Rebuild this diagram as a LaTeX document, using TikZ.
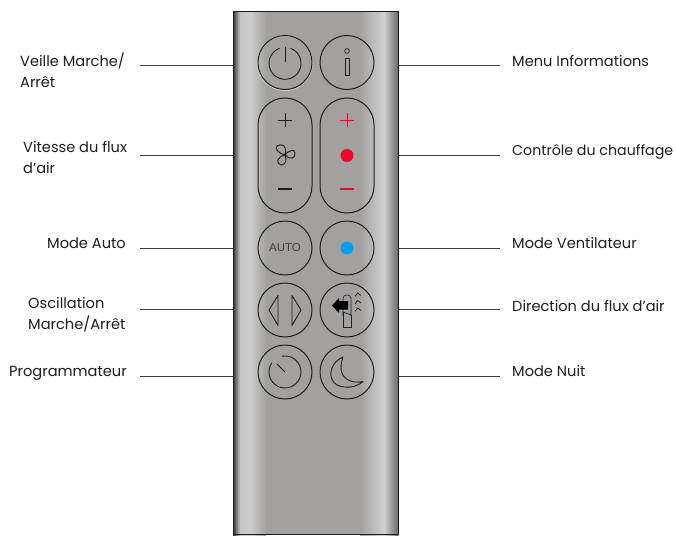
\documentclass[tikz,border=0pt]{standalone}
\usepackage{fontspec}
\setmainfont{Poppins}
\newfontfamily\autofont{Liberation Sans}
\definecolor{bodyg}{RGB}{162,161,159}
\definecolor{btnr}{RGB}{232,10,40}
\definecolor{btnb}{RGB}{10,160,240}
\definecolor{ink}{RGB}{30,30,30}
\tikzset{
 x=1pt,y=-1pt,
 lbl/.style={font=\fontsize{14.6}{21}\selectfont,text=ink,inner sep=0pt,align=left},
 lblsmall/.style={lbl,font=\fontsize{14.2}{21}\selectfont},
 leader/.style={draw=ink!85,line width=0.7pt},
 btn/.style={draw=ink,line width=1pt},
 icon/.style={draw=ink,line width=0.9pt},
 thinline/.style={draw=ink,line width=0.65pt},
 redline/.style={draw=btnr,line width=0.8pt},
 anch/.style={inner sep=0pt,minimum size=0pt}
}
\begin{document}
\begin{tikzpicture}
\useasboundingbox (0,0) rectangle (676,537);
\fill[white] (0,0) rectangle (676,537);
% body
\fill[left color=black!80,right color=black!22] (233,12) rectangle (240,535);
\fill[left color=black!22,right color=white!80!black] (240,12) rectangle (250,535);
\fill[left color=white!80!black,right color=bodyg] (250,12) rectangle (266,535);
\fill[bodyg] (266,12) rectangle (360,535);
\fill[left color=bodyg,right color=white!82!black] (360,12) rectangle (384,535);
\fill[left color=white!82!black,right color=black!60] (384,12) rectangle (398.5,535);
\draw[draw=ink,line width=1pt] (233,534.5)--(233,12)--(398.5,12)--(398.5,534.5)--cycle;
% leaders
\node[anch] (bl1) at (233,65) {}; \node[anch] (bl2) at (233,155) {}; \node[anch] (bl3) at (233,248) {};
\node[anch] (bl4) at (233,309) {}; \node[anch] (bl5) at (233,376) {};
\node[anch] (br1) at (398.5,65) {}; \node[anch] (br2) at (398.5,155) {}; \node[anch] (br3) at (398.5,248) {};
\node[anch] (br4) at (398.5,309) {}; \node[anch] (br5) at (398.5,376) {};
\coordinate (cl1) at (140,65);\coordinate (cl2) at (140,155);\coordinate (cl3) at (140,248);\coordinate (cl4) at (140,309);\coordinate (cl5) at (140,376);
\coordinate (cr1) at (500,65);\coordinate (cr2) at (500,155);\coordinate (cr3) at (500,248);\coordinate (cr4) at (500,309);\coordinate (cr5) at (500,376);
\foreach \i in {1,...,5}{\draw[leader] (cl\i)--(bl\i); \draw[leader] (br\i)--(cr\i);}
% labels
\node[lbl,anchor=north west] (t1) at (20,52.5) {Veille Marche/\\Arrêt};
\node[lbl,anchor=north west] (t2) at (23,141.5) {Vitesse du flux\\d’air};
\node[lbl,anchor=west] (t3) at (47,243) {Mode Auto};
\node[lbl,anchor=north west] (t4) at (28,297) {Oscillation\\Marche/Arrêt};
\node[lbl,anchor=west] (t5) at (9,373.5) {Programmateur};
\node[lbl,anchor=west] (t6) at (512,61) {Menu Informations};
\node[lblsmall,anchor=west] (t7) at (512,151.5) {Contrôle du chauffage};
\node[lbl,anchor=west] (t8) at (512,243) {Mode Ventilateur};
\node[lbl,anchor=west] (t9) at (512,306) {Direction du flux d’air};
\node[lbl,anchor=west] (t10) at (512,371.5) {Mode Nuit};
% buttons
\draw[white!55!bodyg,line width=0.8pt] (285,63.2) circle (27.4);
\draw[btn] (285,62.5) circle (27);
\draw[btn] (347,62.5) circle (27);
\draw[btn,rounded corners=26.9pt] (258,98) rectangle (312,213);
\draw[btn,rounded corners=26.9pt] (320,98) rectangle (374,213);
\draw[btn] (285,248) circle (27);
\draw[btn] (347,248) circle (27);
\draw[btn] (285,310) circle (27);
\draw[btn] (347,310) circle (27);
\draw[btn] (285,372) circle (27);
\draw[btn] (347,372) circle (27);
% power
\draw[icon] (285,47.5)--(285,62);
\draw[icon] (290.5,48.3) arc[start angle=-70,end angle=250,radius=16];
% info
\draw[thinline] (347,51) circle (2.4);
\draw[thinline] (345,58) rectangle (349,75.5);
% fan plus minus
\draw[thinline] (278,120.5)--(292,120.5) (285,113.5)--(285,127.5);
\draw[icon,line width=1.1pt] (278,189)--(292,189);
\draw[icon] (285,155) .. controls (279,154) and (274,148) .. (277,146) .. controls (281,143) and (288,145) .. (285,155)
 .. controls (288,151) and (295,148) .. (295,153) .. controls (296,159) and (289,160) .. (285,155)
 .. controls (287,160) and (286,165) .. (281,165) .. controls (276,164) and (276,157) .. (285,155);
% heat
\draw[redline] (340,120.5)--(354,120.5) (347,113.5)--(347,127.5);
\draw[redline,line width=1.1pt] (340,189)--(354,189);
\fill[btnr] (347,155.5) circle (6.5);
% auto
\node[font=\fontsize{11.5}{12}\selectfont\autofont,text=ink!85,inner sep=0pt] (auto) at (285,248) {AUTO};
\fill[btnb] (347,248) circle (6.5);
% oscillation
\draw[icon,line join=round] (278,295.5)--(269,310)--(278,325.5)--cycle;
\draw[icon,line join=round] (292,295.5)--(301,310)--(292,325.5)--cycle;
% direction
\draw[thinline,rounded corners=3.5pt] (343,316) -- (343,295) -- (351,295) -- (351,316);
\draw[thinline] (343,312)--(351,315);
\draw[thinline] (343,312)--(343,327.5)--(351,327.5)--(351,315);
\fill[black] (332,305.5)--(339,298)--(339,301)--(348,301)--(348,309.5)--(339,309.5)--(339,313)--cycle;
\foreach \yy in {293,300.5,308}{
 \draw[draw=ink,line width=0.7pt] (355,\yy+3.5)--(357.5,\yy)--(361,\yy+2.5);
}
% timer
\draw[icon] (282.2,356.2) arc[start angle=-100,end angle=215,radius=16];
\draw[icon] (285,372)--(277,364);
% moon
\draw[icon,line join=round] (343,357) .. controls (327,364) and (326,385) .. (344,387) .. controls (351,388) and (358,386) .. (363,381.5) .. controls (353,384) and (335,380) .. (343,357) -- cycle;
\end{tikzpicture}
\end{document}
